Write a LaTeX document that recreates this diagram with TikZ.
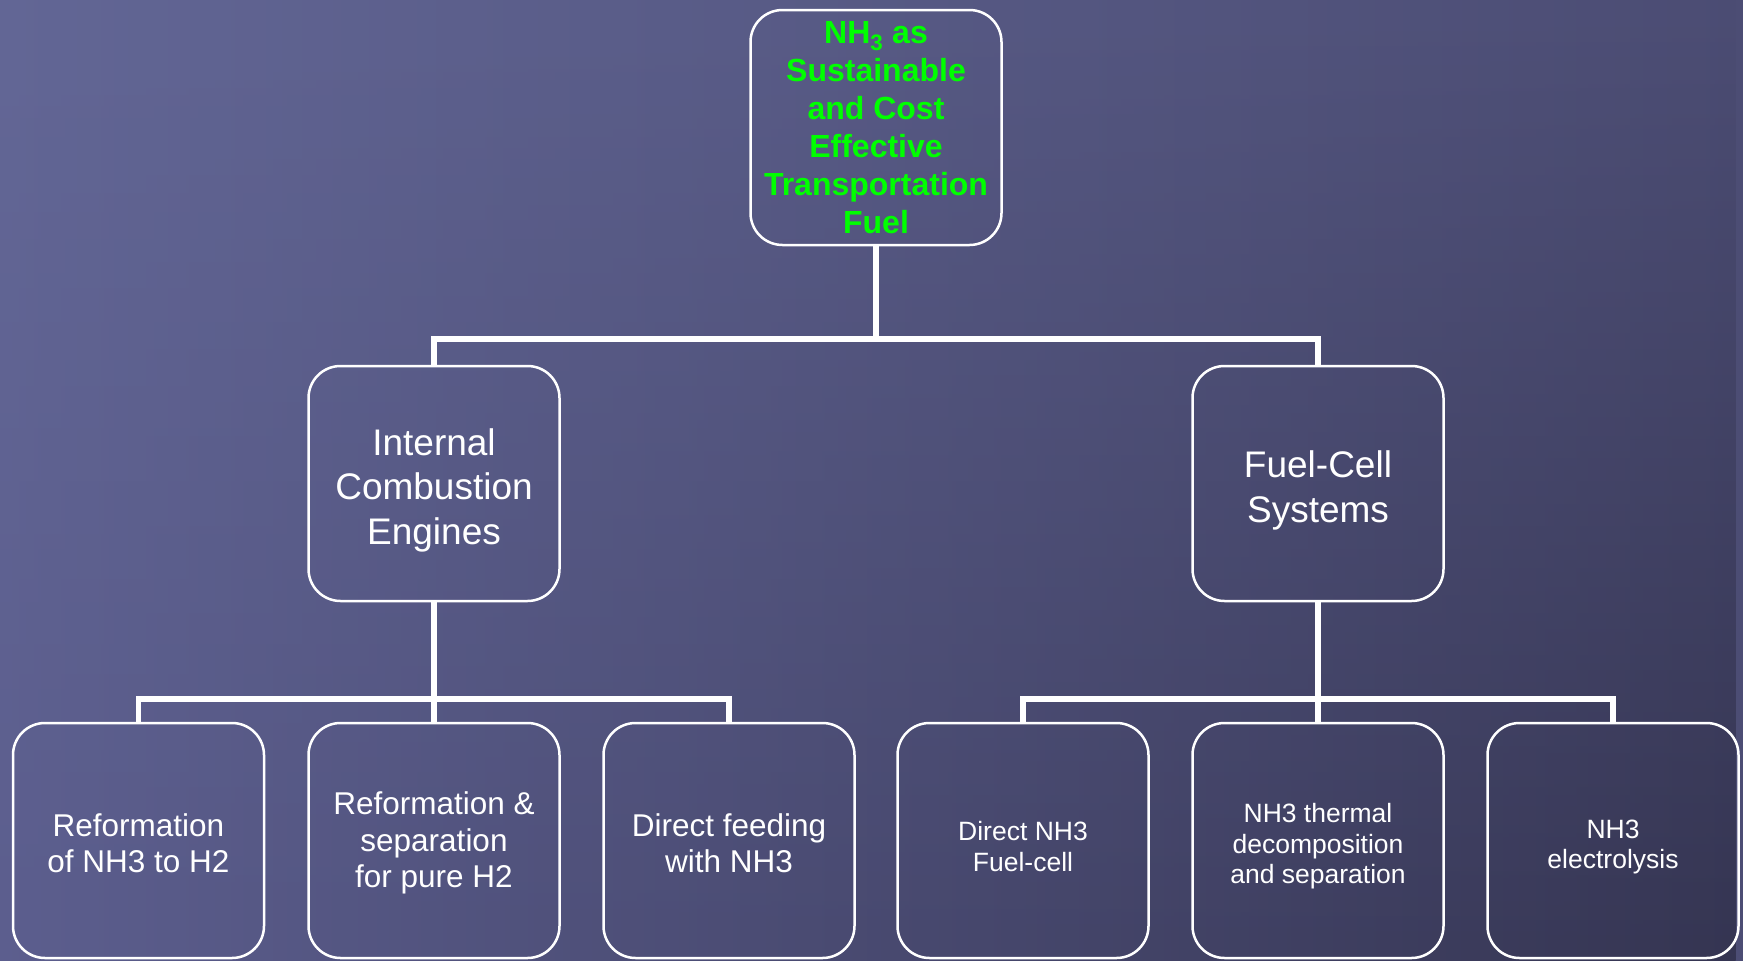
\documentclass[tikz,border=0pt]{standalone}
\usepackage{fontspec}
\setmainfont{Liberation Sans}
\usetikzlibrary{fadings}
\usepackage{xcolor}
\definecolor{bgtopleft}{RGB}{99,103,150}
\definecolor{bgtopright}{RGB}{76,77,116}
\definecolor{bgbotleft}{RGB}{92,94,142}
\definecolor{bgbotright}{RGB}{53,53,82}
\definecolor{rootgreen}{RGB}{0,255,0}
% invisible strut that pushes a box's text a little lower
\newcommand{\droptext}[1]{\rule{0pt}{#1}}
\tikzset{
  base node/.style={draw=white, line width=2.5pt, rounded corners=32pt, minimum width=251pt, minimum height=235pt, inner sep=2pt, align=center, text=white},
  node root/.style={base node, font=\fontsize{32}{38}\selectfont\bfseries, text=rootgreen},
  node branch/.style={base node, font=\fontsize{37}{44.5}\selectfont},
  node leaf/.style={base node, font=\fontsize{31.5}{36.5}\selectfont},
  node leaf small/.style={base node, font=\fontsize{26.5}{30.5}\selectfont},
  tree edge/.style={draw=white, line width=5.5pt}
}

\begin{document}
\begin{tikzpicture}[x=1pt, y=-1pt]

  % =================================================================================
  % SLIDE BACKGROUND (top row gradient, bottom row gradient faded in)
  % =================================================================================
  \shade[left color=bgtopleft, right color=bgtopright] (0,0) rectangle (1743,961);
  \shade[left color=bgbotleft, right color=bgbotright, path fading=north] (0,0) rectangle (1743,961);
  \useasboundingbox (0,0) rectangle (1743,961);

  % =================================================================================
  % LEVEL 1: ROOT
  % =================================================================================
  \node[node root] (Root) at (876, 127.5) {NH\textsubscript{3} as\\Sustainable\\and Cost\\Effective\\Transportation\\Fuel};

  % =================================================================================
  % LEVEL 2: TWO ROUTES
  % =================================================================================
  \node[node branch] (ICE) at (434, 483.5) {\droptext{40.5pt}Internal\\Combustion\\Engines};
  \node[node branch] (FCS) at (1318, 483.5) {\droptext{40.5pt}Fuel-Cell\\Systems};

  % =================================================================================
  % LEVEL 3: OPTIONS PER ROUTE
  % =================================================================================
  \node[node leaf] (ICE_A) at (138.5, 840.5) {\droptext{28pt}Reformation\\of NH3 to H2};
  \node[node leaf] (ICE_B) at (434, 840.5) {\droptext{28pt}Reformation \&\\separation\\for pure H2};
  \node[node leaf] (ICE_C) at (729, 840.5) {\droptext{28pt}Direct feeding\\with NH3};

  \node[node leaf small] (FCS_A) at (1023, 840.5) {\droptext{31pt}Direct NH3\\Fuel-cell};
  \node[node leaf small] (FCS_B) at (1318, 840.5) {\droptext{31pt}NH3 thermal\\decomposition\\and separation};
  \node[node leaf small] (FCS_C) at (1613, 840.5) {\droptext{31pt}NH3\\electrolysis};

  % =================================================================================
  % TREE CONNECTIONS (Elbow Bus Lines)
  % =================================================================================
  \coordinate (bus-top) at (876, 339);
  \coordinate (bus-ice) at (434, 699);
  \coordinate (bus-fcs) at (1318, 699);

  \draw[tree edge] (Root.south) -- (bus-top);
  \draw[tree edge] (ICE.north) |- (bus-top) -| (FCS.north);

  \draw[tree edge] (ICE.south) -- (ICE_B.north);
  \draw[tree edge] (ICE_A.north) |- (bus-ice) -| (ICE_C.north);

  \draw[tree edge] (FCS.south) -- (FCS_B.north);
  \draw[tree edge] (FCS_A.north) |- (bus-fcs) -| (FCS_C.north);

\end{tikzpicture}
\end{document}
